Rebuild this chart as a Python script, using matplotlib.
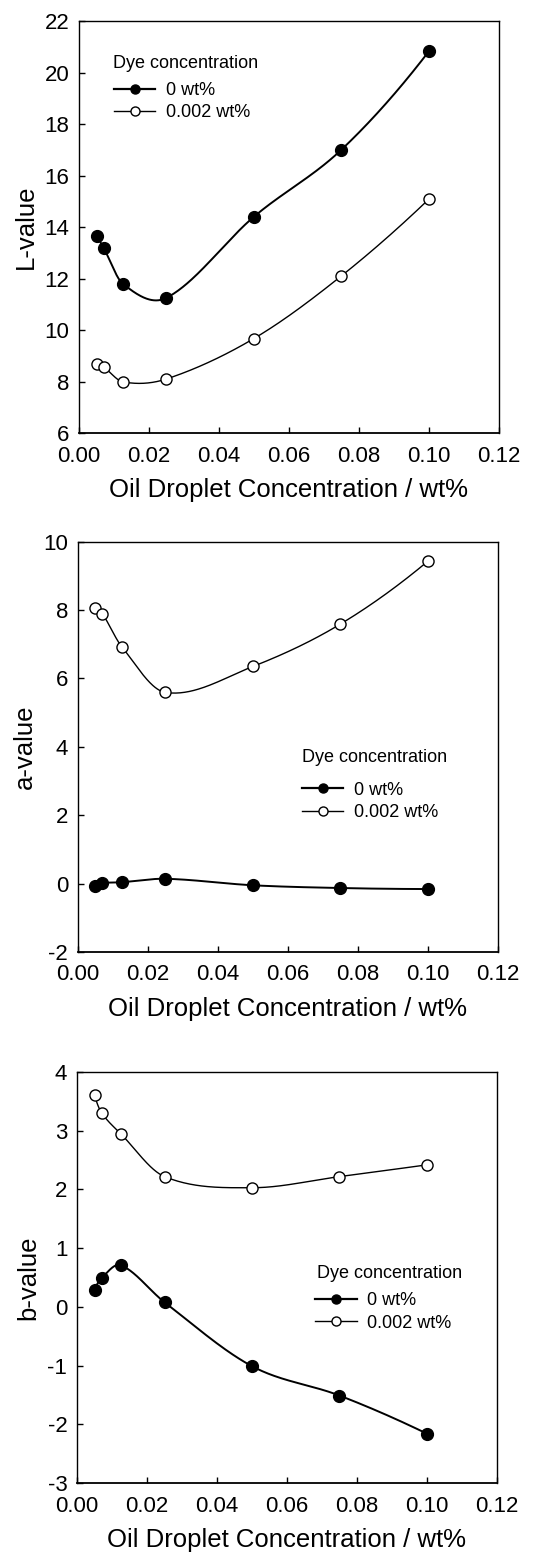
"""
Цветовые координаты L, a, b в зависимости от концентрации капель масла
"""

import numpy as np
import matplotlib
matplotlib.use("Agg")
import matplotlib.pyplot as plt
from matplotlib.lines import Line2D

plt.rcParams['font.family'] = ['Liberation Sans', 'DejaVu Sans']
plt.rcParams['axes.unicode_minus'] = False

# Данные
oil_conc = [0.005, 0.007, 0.0125, 0.025, 0.05, 0.075, 0.1]

L_dye0 = [13.65, 13.2, 11.8, 11.25, 14.4, 17.0, 20.82]
L_dye002 = [8.68, 8.57, 7.99, 8.1, 9.67, 12.1, 15.08]

a_dye0 = [-0.08, 0.01, 0.04, 0.14, -0.05, -0.13, -0.16]
a_dye002 = [8.05, 7.89, 6.93, 5.59, 6.35, 7.59, 9.43]

b_dye0 = [0.29, 0.49, 0.71, 0.08, -1.01, -1.51, -2.16]
b_dye002 = [3.61, 3.31, 2.95, 2.22, 2.03, 2.22, 2.42]

legend_title = 'Dye concentration'
series_labels = ['0 wt%', '0.002 wt%']
xlabel = 'Oil Droplet Concentration / wt%'


def smooth_curve(x, y, per_seg=60):
    """Кубическая эрмитова кривая через точки (наклоны по соседним точкам)"""
    x = np.asarray(x, float)
    y = np.asarray(y, float)
    n = len(x)
    m = np.zeros(n)
    m[1:-1] = (y[2:] - y[:-2]) / (x[2:] - x[:-2])
    sec0 = (y[1] - y[0]) / (x[1] - x[0])
    sec1 = (y[-1] - y[-2]) / (x[-1] - x[-2])
    m[0] = 2 * sec0 - m[1]
    m[-1] = 2 * sec1 - m[-2]
    xs_all, ys_all = [], []
    for i in range(n - 1):
        h = x[i + 1] - x[i]
        s = np.linspace(0, 1, per_seg)
        h00 = 2 * s ** 3 - 3 * s ** 2 + 1
        h10 = s ** 3 - 2 * s ** 2 + s
        h01 = -2 * s ** 3 + 3 * s ** 2
        h11 = s ** 3 - s ** 2
        xs_all.append(x[i] + s * h)
        ys_all.append(h00 * y[i] + h10 * h * m[i] + h01 * y[i + 1] + h11 * h * m[i + 1])
    return np.concatenate(xs_all), np.concatenate(ys_all)


fig = plt.figure(figsize=(5.34, 15.56), dpi=100)

panels = [
    # rect, заполненные, пустые, ylim, yticks, подпись, заголовок легенды, легенда
    ([0.148, 0.7217, 0.786, 0.2648], L_dye0, L_dye002, (6, 22), np.arange(6, 23, 2),
     'L-value', (0.081, 0.898), (0.083, 0.852)),
    ([0.146, 0.3882, 0.7865, 0.2637], a_dye0, a_dye002, (-2, 10), np.arange(-2, 11, 2),
     'a-value', (0.533, 0.475), (0.533, 0.415)),
    ([0.1442, 0.0469, 0.7865, 0.2641], b_dye0, b_dye002, (-3, 4), np.arange(-3, 5, 1),
     'b-value', (0.571, 0.511), (0.567, 0.464)),
]

for rect, y_filled, y_open, ylim, yticks, ylabel, title_pos, anchor in panels:
    ax = fig.add_axes(rect)

    # сглаженные кривые
    xs, ys = smooth_curve(oil_conc, y_filled)
    ax.plot(xs, ys, color='black', lw=1.4, zorder=2)
    xs, ys = smooth_curve(oil_conc, y_open)
    ax.plot(xs, ys, color='black', lw=1.0, zorder=2)

    # точки
    ax.plot(oil_conc, y_filled, 'o', ms=8.5, mfc='black', mec='black', zorder=3)
    ax.plot(oil_conc, y_open, 'o', ms=8, mfc='white', mec='black', mew=1.0, zorder=3)

    ax.set_xlim(0, 0.12)
    ax.set_ylim(*ylim)
    ax.set_xticks(np.arange(0, 0.121, 0.02))
    ax.set_xticklabels([f'{v:.2f}' for v in np.arange(0, 0.121, 0.02)])
    ax.set_yticks(yticks)
    ax.tick_params(direction='in', length=4, width=1, labelsize=16, pad=7)
    ax.tick_params(axis='x', pad=9)
    for s in ax.spines.values():
        s.set_linewidth(1.0)
    ax.spines['bottom'].set_linewidth(1.3)

    ax.set_xlabel(xlabel, fontsize=18.5, labelpad=8)
    ax.set_ylabel(ylabel, fontsize=18.5, labelpad=5)

    ax.text(title_pos[0], title_pos[1], legend_title, transform=ax.transAxes,
            fontsize=13, ha='left', va='center')
    handles = [
        Line2D([], [], color='black', lw=1.6, marker='o', ms=6.5, mfc='black', mec='black'),
        Line2D([], [], color='black', lw=1.0, marker='o', ms=6.5, mfc='white', mec='black'),
    ]
    ax.legend(handles, series_labels, loc='upper left', bbox_to_anchor=anchor,
              frameon=False, fontsize=13, handlelength=2.3, handletextpad=0.6,
              labelspacing=0.3, borderpad=0, borderaxespad=0)

plt.savefig('out.png', dpi=100)
